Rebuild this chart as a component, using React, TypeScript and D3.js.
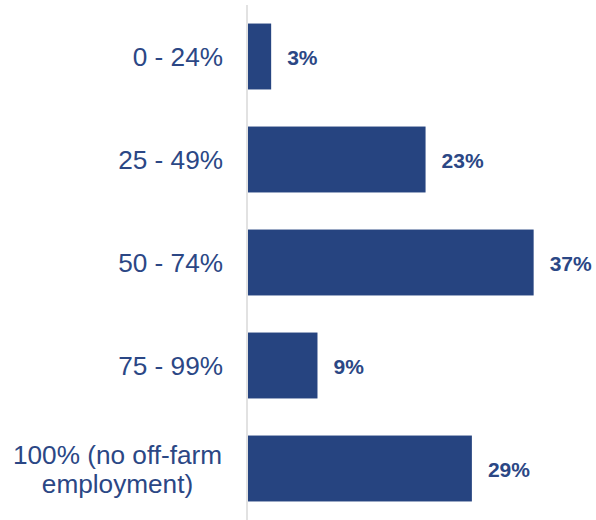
import React, { useEffect, useRef } from "react";
import * as d3 from "d3";

const categories: string[][] = [
  ["0 - 24%"],
  ["25 - 49%"],
  ["50 - 74%"],
  ["75 - 99%"],
  ["100% (no off-farm", "employment)"],
];
const values: number[] = [3, 23, 37, 9, 29];
const valueLabels: string[] = ["3%", "23%", "37%", "9%", "29%"];

const W = 596;
const H = 520;
const BAR = "#264480";
const TEXT = "#2B4785";
const FONT = "'Liberation Sans', Arial, sans-serif";

export default function App() {
  const ref = useRef<SVGSVGElement | null>(null);
  useEffect(() => {
    const svg = d3.select(ref.current);
    svg.selectAll("*").remove();
    const keys = categories.map((_, i) => String(i));
    const y = d3.scaleBand<string>().domain(keys).range([5, 520]).paddingInner(0.36).paddingOuter(0.18);
    const x = d3.scaleLinear().domain([0, 40]).range([248, 556.8]);

    svg.append("g")
      .selectAll("rect")
      .data(values)
      .join("rect")
      .attr("x", x(0))
      .attr("y", (_, i) => y(String(i))!)
      .attr("width", (d) => x(d) - x(0))
      .attr("height", y.bandwidth())
      .attr("fill", BAR);

    svg.append("line")
      .attr("x1", 247).attr("x2", 247)
      .attr("y1", 5).attr("y2", 520)
      .attr("stroke", "#d9d9d9").attr("stroke-width", 1.5);

    svg.append("g")
      .selectAll("text")
      .data(values)
      .join("text")
      .attr("x", (d) => x(d) + 16)
      .attr("y", (_, i) => y(String(i))! + y.bandwidth() / 2 + 8)
      .attr("font-family", FONT)
      .attr("font-size", 21)
      .attr("font-weight", "bold")
      .attr("fill", TEXT)
      .text((_, i) => valueLabels[i]);

    const lh = 29;
    categories.forEach((lines, i) => {
      const cy = y(String(i))! + y.bandwidth() / 2;
      const multi = lines.length > 1;
      const t = svg.append("text")
        .attr("font-family", FONT)
        .attr("font-size", 26.2)
        .attr("fill", TEXT)
        .attr("text-anchor", multi ? "middle" : "end");
      const tx = multi ? 117.5 : 223;
      lines.forEach((ln, j) => {
        t.append("tspan")
          .attr("x", tx)
          .attr("y", cy + 9.5 + (j - (lines.length - 1) / 2) * lh)
          .text(ln);
      });
    });
  }, []);
  return (
    <svg
      ref={ref}
      width={W}
      height={H}
      style={{ position: "absolute", left: 0, top: 0, background: "#fff" }}
    />
  );
}
